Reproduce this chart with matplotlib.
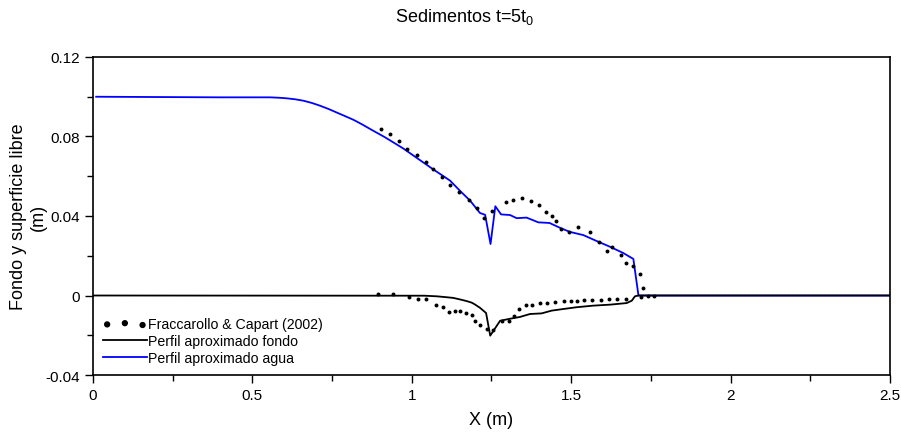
import matplotlib
matplotlib.use("Agg")
import matplotlib.pyplot as plt
from matplotlib.ticker import MultipleLocator

plt.rcParams['font.family'] = ['Liberation Sans', 'DejaVu Sans']
plt.rcParams['mathtext.fontset'] = 'custom'
plt.rcParams['mathtext.rm'] = 'Liberation Sans'

# Experimental data (Fraccarollo & Capart 2002) - water surface
exp_surf_x = [0.903, 0.931, 0.959, 0.986, 1.016, 1.043, 1.066, 1.094, 1.120, 1.149,
              1.180, 1.204, 1.228, 1.251, 1.295, 1.318, 1.345, 1.375, 1.400, 1.420,
              1.441, 1.452, 1.467, 1.494, 1.521, 1.558, 1.586, 1.613, 1.629, 1.657,
              1.673, 1.695, 1.715, 1.725]
exp_surf_y = [0.0840, 0.0813, 0.0775, 0.0738, 0.0709, 0.0672, 0.0634, 0.0597, 0.0557, 0.0523,
              0.0479, 0.0439, 0.0389, 0.0424, 0.0468, 0.0478, 0.0490, 0.0473, 0.0456, 0.0418,
              0.0400, 0.0376, 0.0337, 0.0318, 0.0346, 0.0317, 0.0268, 0.0223, 0.0243, 0.0205,
              0.0164, 0.0146, 0.0107, 0.0039]

# Experimental data - bed
exp_bed_x = [0.893, 0.942, 0.990, 1.020, 1.045, 1.077, 1.099, 1.118, 1.136, 1.151,
             1.170, 1.190, 1.198, 1.214, 1.235, 1.254, 1.284, 1.306, 1.321, 1.337,
             1.357, 1.378, 1.402, 1.425, 1.450, 1.477, 1.498, 1.519, 1.541, 1.566,
             1.593, 1.620, 1.645, 1.671, 1.718, 1.742, 1.760]
exp_bed_y = [0.0010, 0.0010, -0.0009, -0.0020, -0.0020, -0.0047, -0.0057, -0.0084, -0.0076, -0.0076,
             -0.0087, -0.0099, -0.0126, -0.0149, -0.0166, -0.0174, -0.0129, -0.0129, -0.0101, -0.0070,
             -0.0050, -0.0050, -0.0040, -0.0037, -0.0034, -0.0030, -0.0030, -0.0027, -0.0024, -0.0024,
             -0.0024, -0.0019, -0.0017, -0.0017, -0.0007, 0.0000, 0.0000]

# Computed bed profile
bed_x = [0.0, 1.040, 1.078, 1.105, 1.130, 1.152, 1.172, 1.188, 1.198, 1.214, 1.233, 1.246,
         1.277, 1.308, 1.339, 1.371, 1.407, 1.439, 1.475, 1.517, 1.569, 1.622, 1.674,
         1.690, 1.700, 1.711, 2.5]
bed_y = [0.0, -0.0001, -0.0004, -0.0008, -0.0012, -0.0020, -0.0028, -0.0036, -0.0045, -0.0062,
         -0.0088, -0.0202, -0.0127, -0.0117, -0.0108, -0.0093, -0.0090, -0.0076, -0.0068,
         -0.0059, -0.0051, -0.0046, -0.0038, -0.0026, -0.0004, 0.0, 0.0]

# Computed water surface profile
surf_x = [0.01, 0.398, 0.555, 0.583, 0.608, 0.635, 0.660, 0.686, 0.712, 0.738, 0.764,
          0.790, 0.817, 0.843, 0.869, 0.916, 0.973, 1.066, 1.120, 1.151, 1.183, 1.204,
          1.214, 1.230, 1.247, 1.262, 1.280, 1.308, 1.329, 1.360, 1.397, 1.432, 1.467,
          1.496, 1.538, 1.580, 1.622, 1.663, 1.695, 1.711, 2.5]
surf_y = [0.1000, 0.0997, 0.0997, 0.0995, 0.0992, 0.0987, 0.0980, 0.0969, 0.0955, 0.0939,
          0.0921, 0.0903, 0.0884, 0.0862, 0.0838, 0.0796, 0.0740, 0.0636, 0.0578, 0.0527,
          0.0477, 0.0435, 0.0415, 0.0406, 0.0259, 0.0449, 0.0408, 0.0405, 0.0389, 0.0392,
          0.0368, 0.0365, 0.0339, 0.0320, 0.0304, 0.0274, 0.0245, 0.0214, 0.0184, 0.0, 0.0]

fig = plt.figure(figsize=(9.01, 4.35), dpi=100)
ax = fig.add_axes([0.1032, 0.1356, 0.8846, 0.7311])

ax.scatter(exp_surf_x, exp_surf_y, s=8, color='black', zorder=3, linewidths=0)
sc = ax.scatter(exp_bed_x, exp_bed_y, s=8, color='black', zorder=3, linewidths=0,
                label='Fraccarollo & Capart (2002)')
ax.plot(surf_x, surf_y, color='#0000ff', lw=1.3, zorder=2)
ln_b, = ax.plot(bed_x, bed_y, color='black', lw=1.3, zorder=2.5,
                label='Perfil aproximado fondo')
ln_w, = ax.plot([], [], color='#0000ff', lw=1.3, label='Perfil aproximado agua')

ax.set_xlim(0, 2.5)
ax.set_ylim(-0.04, 0.12)
ax.xaxis.set_major_locator(MultipleLocator(0.5))
ax.xaxis.set_minor_locator(MultipleLocator(0.25))
ax.yaxis.set_major_locator(MultipleLocator(0.04))
ax.yaxis.set_minor_locator(MultipleLocator(0.02))
ax.tick_params(which='both', direction='out', top=False, right=False, width=1)
ax.tick_params(which='major', length=6, labelsize=11)
ax.tick_params(which='minor', length=4)
ax.xaxis.set_major_formatter(plt.FuncFormatter(lambda v, p: f"{v:g}"))
ax.yaxis.set_major_formatter(plt.FuncFormatter(lambda v, p: f"{v:g}"))
for lab in ax.get_xticklabels():
    lab.set_family(['Liberation Sans Narrow', 'Liberation Sans'])
for s in ax.spines.values():
    s.set_linewidth(1.2)

ax.set_xlabel('X (m)', fontsize=13, labelpad=6)
ax.set_ylabel('Fondo y superficie libre\n(m)', fontsize=13)
ax.yaxis.set_label_coords((47 - 93) / 797, 0.5)
fig.text(465/901, 1 - 17/435, r'Sedimentos t=5t$_\mathregular{0}$', fontsize=13,
         ha='center', va='center')

ax.legend(handles=[sc, ln_b, ln_w], loc='lower left', bbox_to_anchor=(0.0, 0.001),
          frameon=False, fontsize=10.2, scatterpoints=3, markerscale=1.6,
          handlelength=3.1, handletextpad=0.05, labelspacing=0.2, borderaxespad=0.3)

fig.savefig('out.png', dpi=100)
